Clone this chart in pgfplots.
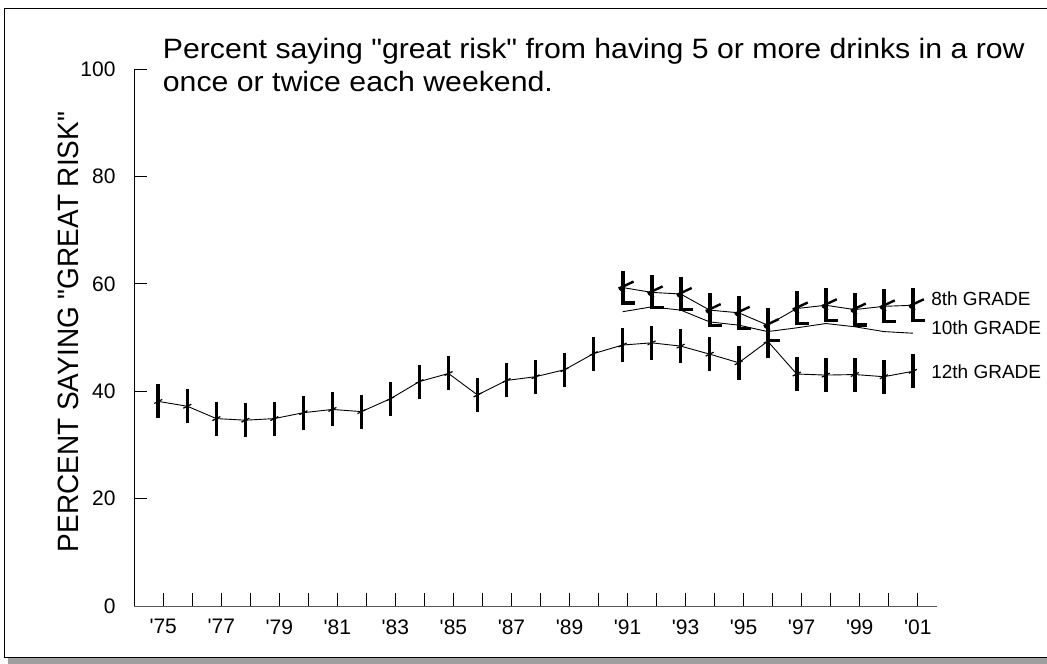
\documentclass[border=0pt]{standalone}
\usepackage{fontspec}
\setmainfont{Liberation Sans}
\usepackage{pgfplots}
\pgfplotsset{compat=1.18}
\newcommand\tl{\fontsize{21}{25}\selectfont}
\newcommand\yr[1]{{\tl\textquotesingle#1}}
\pgfdeclareplotmark{bartwelve}{%
  \pgfsetbuttcap
  \pgfsetlinewidth{3.6pt}%
  \pgfpathmoveto{\pgfpoint{0pt}{-17pt}}\pgfpathlineto{\pgfpoint{0pt}{17pt}}\pgfusepathqstroke
  \pgfsetlinewidth{1.2pt}%
  \pgfpathmoveto{\pgfpoint{-4pt}{-2pt}}\pgfpathlineto{\pgfpoint{4pt}{2pt}}\pgfusepathqstroke
}
\pgfdeclareplotmark{bareight}{%
  \pgfsetbuttcap
  \pgfsetlinewidth{3.8pt}%
  \pgfpathmoveto{\pgfpoint{0pt}{-17pt}}\pgfpathlineto{\pgfpoint{0pt}{17pt}}\pgfusepathqstroke
  \pgfsetlinewidth{3.2pt}%
  \pgfpathmoveto{\pgfpoint{-1.9pt}{-15.4pt}}\pgfpathlineto{\pgfpoint{12pt}{-15.4pt}}\pgfusepathqstroke
  \pgfsetlinewidth{2.4pt}%
  \pgfpathmoveto{\pgfpoint{-4pt}{-1pt}}\pgfpathlineto{\pgfpoint{11pt}{6pt}}\pgfusepathqstroke
  \pgfpathmoveto{\pgfpoint{-3pt}{-1pt}}\pgfpathlineto{\pgfpoint{2pt}{-5pt}}\pgfusepathqstroke
}
\pgfplotstableread{
year v
1975 38.1
1976 37.2
1977 34.9
1978 34.6
1979 34.9
1980 36.0
1981 36.6
1982 36.2
1983 38.6
1984 41.8
1985 43.3
1986 39.3
1987 42.0
1988 42.7
1989 44.0
1990 47.0
1991 48.6
1992 49.0
1993 48.4
1994 46.9
1995 45.3
1996 49.3
1997 43.2
1998 43.0
1999 43.1
2000 42.7
2001 43.7
}\twelfth
\pgfplotstableread{
year v
1991 59.3
1992 58.4
1993 58.1
1994 55.1
1995 54.6
1996 52.3
1997 55.4
1998 56.0
1999 55.2
2000 55.8
2001 56.0
}\eighth
\pgfplotstableread{
year v
1991 54.8
1992 55.7
1993 55.1
1994 52.9
1995 52.3
1996 51.1
1997 51.8
1998 52.6
1999 52.0
2000 51.1
2001 50.8
}\tenth
\begin{document}
\begin{tikzpicture}[x=1pt,y=1pt]
\useasboundingbox (0,0) rectangle (1047,664);
\fill[gray!75] (8,0) rectangle (1047,6);
\draw[black, line width=0.9pt] (1047,7) -- (4,7) -- (4,656) -- (1047,656);
\node[anchor=base west, inner sep=0pt, xscale=1.08, font=\fontsize{28}{33}\selectfont] at (162.7,605) {Percent saying \textquotedbl great risk\textquotedbl{} from having 5 or more drinks in a row};
\node[anchor=base west, inner sep=0pt, xscale=1.08, font=\fontsize{28}{33}\selectfont] at (162.7,572) {once or twice each weekend.};
\node[rotate=90, inner sep=0pt, yscale=1.05, font=\fontsize{28}{33}\selectfont] at (68,332) {PERCENT SAYING \textquotedbl GREAT RISK\textquotedbl};
\begin{axis}[
  at={(134pt,58pt)}, anchor=south west, scale only axis,
  width=803pt, height=537pt,
  xmin=1974.163, xmax=2001.833, ymin=0, ymax=100,
  axis x line*=bottom, axis y line*=left,
  x axis line style={-, color=black!65, line width=0.9pt},
  y axis line style={-, color=black, line width=0.9pt},
  xtick align=inside, ytick align=inside,
  major tick length=13pt,
  tick style={black, line width=0.9pt},
  ytick={0,20,40,60,80,100},
  yticklabel={\tl\pgfmathprintnumber{\tick}},
  xtick={1975.17,1976.17,1977.17,1978.17,1979.17,1980.17,1981.17,1982.17,1983.17,1984.17,1985.17,1986.17,1987.17,1988.17,1989.17,1990.17,1991.17,1992.17,1993.17,1994.17,1995.17,1996.17,1997.17,1998.17,1999.17,2000.17,2001.17},
  xticklabels={\yr{75},,\yr{77},,\yr{79},,\yr{81},,\yr{83},,\yr{85},,\yr{87},,\yr{89},,\yr{91},,\yr{93},,\yr{95},,\yr{97},,\yr{99},,\yr{01}},
  xticklabel style={yshift=-10pt},
  yticklabel style={xshift=-15pt},
  /pgf/number format/assume math mode=true,
  clip=false,
]
\addplot[black, line width=0.9pt, mark=bartwelve] table[x=year,y=v] {\twelfth};
\addplot[black, line width=0.9pt, mark=bareight] table[x=year,y=v] {\eighth};
\addplot[black, line width=0.9pt, mark=none] table[x=year,y=v] {\tenth};
\node[anchor=west, inner sep=0pt, font=\fontsize{19}{22}\selectfont] at (axis cs:2001.63,57.2) {8th GRADE};
\node[anchor=west, inner sep=0pt, font=\fontsize{19}{22}\selectfont] at (axis cs:2001.63,51.8) {10th GRADE};
\node[anchor=west, inner sep=0pt, font=\fontsize{19}{22}\selectfont] at (axis cs:2001.63,43.6) {12th GRADE};
\end{axis}
\end{tikzpicture}
\end{document}
